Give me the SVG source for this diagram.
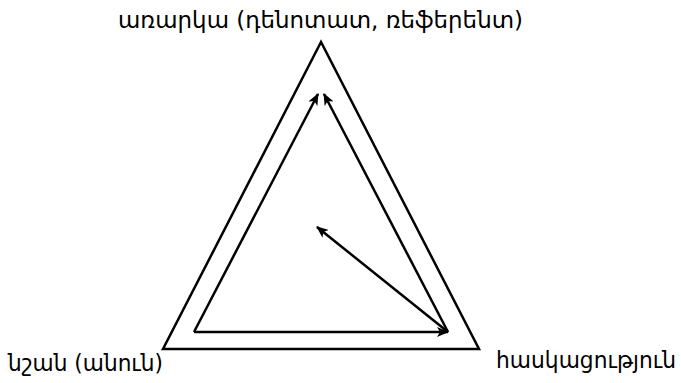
<svg xmlns="http://www.w3.org/2000/svg" width="681" height="383" viewBox="0 0 681 383">
<style>
.lbl{font-family:"DejaVu Sans","Noto Sans",sans-serif;font-size:22.5px;fill:#000}
.ln{stroke:#000;stroke-width:2.5;fill:none}
</style>
<defs>
<marker id="ah" viewBox="0 0 12 10" refX="11" refY="5" markerWidth="12" markerHeight="10" markerUnits="userSpaceOnUse" orient="auto">
<path d="M0,0 L12,5 L0,10 L3,5 z" fill="#000"/>
</marker>
</defs>
<rect width="681" height="383" fill="#fff"/>
<g id="frame">
<polygon class="ln" points="321,42 163,349 479,349"/>
</g>
<g id="connectors">
<line class="ln" x1="194" y1="332" x2="318" y2="94" marker-end="url(#ah)"/>
<line class="ln" x1="194" y1="332" x2="448" y2="332" marker-end="url(#ah)"/>
<line class="ln" x1="448" y1="332" x2="324" y2="94" marker-end="url(#ah)"/>
<line class="ln" x1="448" y1="332" x2="317" y2="227" marker-end="url(#ah)"/>
</g>
<g id="node-object">
<text class="lbl" x="118" y="28" textLength="405" lengthAdjust="spacingAndGlyphs">առարկա (դենոտատ, ռեֆերենտ)</text>
</g>
<g id="node-sign">
<text class="lbl" x="8" y="371" textLength="155" lengthAdjust="spacingAndGlyphs">նշան (անուն)</text>
</g>
<g id="node-concept">
<text class="lbl" x="496" y="368" textLength="180" lengthAdjust="spacingAndGlyphs">հասկացություն</text>
</g>
</svg>
